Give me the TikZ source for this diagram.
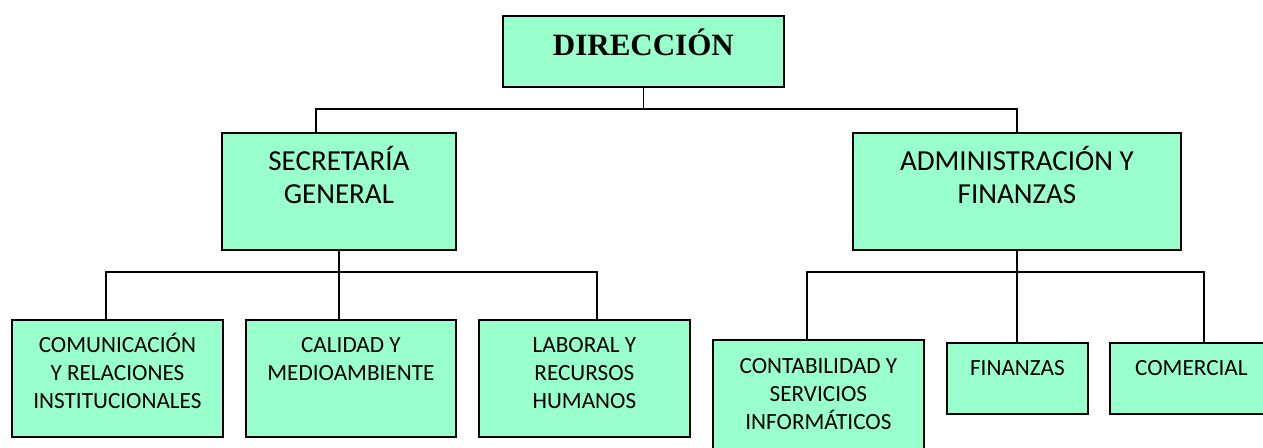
\documentclass[tikz,border=0pt]{standalone}
\usepackage{fontspec}
\setmainfont{Carlito}
\newfontfamily\dirfont{Liberation Serif}
\usetikzlibrary{calc}
\definecolor{menta}{RGB}{153,255,204}
\tikzset{
  unidad/.style={draw=black, line width=0.9pt, fill=menta, anchor=north west,
    inner sep=0pt, align=flush center},
  nivelA/.style={unidad, font=\dirfont\bfseries\fontsize{15.5}{18}\selectfont},
  nivelB/.style={unidad, font=\fontsize{14.5}{16.5}\selectfont},
  nivelC/.style={unidad, font=\fontsize{11.6}{14}\selectfont},
  enlace/.style={draw=black, line width=0.9pt},
}

\begin{document}
\begin{tikzpicture}[x=0.5pt, y=-0.5pt]
\useasboundingbox (0,0) rectangle (1263,447);

    \node[nivelA, text width=140.5pt, text height=20pt, text depth=15.5pt] (direccion) at (502,15) {DIRECCIÓN};

    \node[nivelB, text width=117pt, text height=19pt, text depth=39.5pt] (secretaria) at (221,132) {SECRETARÍA\\GENERAL};
    \node[nivelB, text width=164pt, text height=19pt, text depth=39.5pt] (administracion) at (852,132) {ADMINISTRACIÓN Y\\FINANZAS};

    \node[nivelC, text width=105.5pt, text height=16.5pt, text depth=42pt] (comunicacion) at (11,319) {COMUNICACIÓN\\Y RELACIONES\\INSTITUCIONALES};
    \node[nivelC, text width=105pt, text height=16.5pt, text depth=42pt] (calidad) at (245,319) {CALIDAD Y\\MEDIOAMBIENTE};
    \node[nivelC, text width=105.5pt, text height=16.5pt, text depth=42pt] (laboral) at (478,319) {LABORAL Y\\RECURSOS\\HUMANOS};

    \node[nivelC, text width=105.5pt, text height=17pt, text depth=41pt] (contabilidad) at (712,339) {CONTABILIDAD Y\\SERVICIOS\\INFORMÁTICOS};
    \node[nivelC, text width=70.5pt, text height=16.5pt, text depth=19pt] (finanzas) at (946,342) {FINANZAS};
    \node[nivelC, text width=81.5pt, text height=16.5pt, text depth=19pt] (comercial) at (1109,342) {COMERCIAL};

    % barras de union
    \coordinate (bus1) at (0,109);
    \coordinate (bus2) at (0,272);
    \coordinate (c-sec) at ($(secretaria.north)+(-23,0)$);
    \coordinate (c-com) at ($(comunicacion.north)+(-11.5,0)$);
    \coordinate (c-lab) at ($(laboral.north)+(12.5,0)$);
    \coordinate (c-con) at ($(contabilidad.north)+(-11.5,0)$);
    \coordinate (c-cml) at ($(comercial.north)+(12.5,0)$);

    \draw[enlace] (direccion.south) -- (direccion.south |- bus1);
    \draw[enlace] (c-sec) |- (administracion.north |- bus1) -- (administracion.north);

    \draw[enlace] (secretaria.south) -- (secretaria.south |- calidad.north);
    \draw[enlace] (c-com) |- (c-lab |- bus2) -- (c-lab);

    \draw[enlace] (administracion.south) -- (administracion.south |- finanzas.north);
    \draw[enlace] (c-con) |- (c-cml |- bus2) -- (c-cml);
\end{tikzpicture}
\end{document}
